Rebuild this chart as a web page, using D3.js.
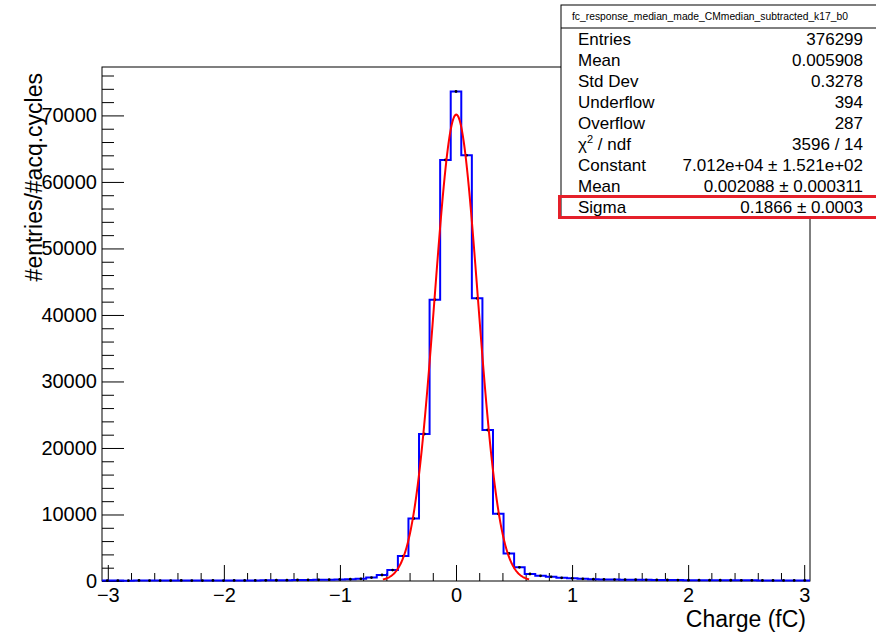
<!DOCTYPE html>
<html>
<head>
<meta charset="utf-8">
<script src="https://cdn.jsdelivr.net/npm/d3@7"></script>
<style>
body { margin: 0; background: #fff; }
text { font-family: "Liberation Sans", Arial, Helvetica, sans-serif; fill: #000; }
</style>
</head>
<body>
<svg id="chart"></svg>
<script>
// histogram: 67 bins over [-3.05, 3.05], bin centers at k * width, k = -33..33
const xRange = [-3.05, 3.05];
const binValues = [
    60, 70, 50, 80, 60, 70, 60, 80, 70, 60,
    80, 70, 90, 80, 90, 100, 110, 120, 150, 160,
    170, 200, 230, 260, 330, 520, 900, 1650, 3750, 9400,
    22100, 42300, 63300, 73600, 64000, 42500, 22700, 10100, 4150, 2050,
    1050, 780, 630, 470, 400, 320, 260, 240, 220, 200,
    190, 170, 160, 150, 140, 130, 130, 120, 110, 110,
    100, 100, 90, 90, 80, 90, 80
];
const xTicks = [-3, -2, -1, 0, 1, 2, 3];
const xTickLabels = ["\u22123", "\u22122", "\u22121", "0", "1", "2", "3"];
const yTicks = [0, 10000, 20000, 30000, 40000, 50000, 60000, 70000];

// gaussian fit parameters (from the stats box)
const fitConstant = 7.012e4;
const fitMean = 0.002088;
const fitSigma = 0.1866;
const fitRange = [-0.63, 0.63];

const statsTitle = "fc_response_median_made_CMmedian_subtracted_k17_b0";
const statsLabels = ["Entries", "Mean", "Std Dev", "Underflow", "Overflow", "chi2", "Constant", "Mean", "Sigma"];
const statsValues = ["376299", "0.005908", "0.3278", "394", "287", "3596 / 14",
    "7.012e+04 \u00b1 1.521e+02", "0.002088 \u00b1 0.000311", "0.1866 \u00b1 0.0003"];

const width = 876, height = 635;
const frame = { left: 102, right: 810, top: 67, bottom: 581 };

const svg = d3.select("#chart").attr("width", width).attr("height", height);

const binWidth = (xRange[1] - xRange[0]) / binValues.length;
const bins = binValues.map((v, i) => ({
    x0: xRange[0] + i * binWidth,
    x1: xRange[0] + (i + 1) * binWidth,
    xc: xRange[0] + (i + 0.5) * binWidth,
    v: v
}));

const x = d3.scaleLinear().domain(xRange).range([frame.left, frame.right]);
const y = d3.scaleLinear().domain([0, d3.max(binValues) * 1.05]).range([frame.bottom, frame.top]);

// frame
svg.append("rect")
    .attr("x", frame.left).attr("y", frame.top)
    .attr("width", frame.right - frame.left).attr("height", frame.bottom - frame.top)
    .attr("fill", "none").attr("stroke", "#000").attr("stroke-width", 1);

// x axis
const xAxis = svg.append("g")
    .attr("transform", `translate(0,${frame.bottom})`)
    .call(d3.axisBottom(x).tickValues(xTicks).tickFormat((d, i) => xTickLabels[i])
        .tickSize(-16).tickPadding(7));
xAxis.select(".domain").remove();
xAxis.selectAll("text").style("font-size", "20px");

const xMinor = d3.range(-2.8, 3, 0.2).filter(d => Math.abs(d - Math.round(d)) > 0.01);
svg.append("g")
    .attr("transform", `translate(0,${frame.bottom})`)
    .call(d3.axisBottom(x).tickValues(xMinor).tickFormat("").tickSize(-8))
    .call(g => g.select(".domain").remove());

// y axis
const yAxis = svg.append("g")
    .attr("transform", `translate(${frame.left},0)`)
    .call(d3.axisLeft(y).tickValues(yTicks).tickFormat(d3.format("d"))
        .tickSize(-22).tickPadding(5));
yAxis.select(".domain").remove();
yAxis.selectAll("text").style("font-size", "20px");

const yMinor = d3.range(2000, 77000, 2000).filter(d => d % 10000 !== 0);
svg.append("g")
    .attr("transform", `translate(${frame.left},0)`)
    .call(d3.axisLeft(y).tickValues(yMinor).tickFormat("").tickSize(-12))
    .call(g => g.select(".domain").remove());

// axis titles
svg.append("text")
    .attr("x", frame.right - 4).attr("y", 627)
    .attr("text-anchor", "end")
    .style("font-size", "23px")
    .text("Charge (fC)");

svg.append("text")
    .attr("transform", `translate(42,${frame.top + 6}) rotate(-90)`)
    .attr("text-anchor", "end")
    .style("font-size", "23px")
    .text("#entries/#acq.cycles");

// histogram outline
const stepPts = bins.map(b => [b.x0, b.v]).concat([[bins[bins.length - 1].x1, bins[bins.length - 1].v]]);
svg.append("path")
    .datum(stepPts)
    .attr("fill", "none")
    .attr("stroke", "#0000ff")
    .attr("stroke-width", 2)
    .attr("d", d3.line().x(d => x(d[0])).y(d => y(d[1])).curve(d3.curveStepAfter));

// bin markers
svg.append("g").selectAll("circle")
    .data(bins)
    .join("circle")
    .attr("cx", d => x(d.xc))
    .attr("cy", d => y(d.v))
    .attr("r", 1.4)
    .attr("fill", "#000");

// fit curve
const fitPts = d3.range(fitRange[0], fitRange[1] + 1e-9, 0.004)
    .map(t => [t, fitConstant * Math.exp(-0.5 * Math.pow((t - fitMean) / fitSigma, 2))]);
svg.append("path")
    .datum(fitPts)
    .attr("fill", "none")
    .attr("stroke", "#ff0000")
    .attr("stroke-width", 2)
    .attr("d", d3.line().x(d => x(d[0])).y(d => y(d[1])));

// stats box
const box = { left: 561, right: 880, top: 5, titleBottom: 28, rowH: 21 };
const boxBottom = box.titleBottom + box.rowH * statsLabels.length;
const stats = svg.append("g");
stats.append("rect")
    .attr("x", box.left).attr("y", box.top)
    .attr("width", box.right - box.left).attr("height", boxBottom - box.top)
    .attr("fill", "#fff").attr("stroke", "#000").attr("stroke-width", 1);
stats.append("line")
    .attr("x1", box.left).attr("x2", box.right)
    .attr("y1", box.titleBottom).attr("y2", box.titleBottom)
    .attr("stroke", "#000");
stats.append("text")
    .attr("x", 572).attr("y", 20)
    .style("font-size", "10.3px")
    .text(statsTitle);

statsLabels.forEach((lab, i) => {
    const by = box.titleBottom + box.rowH * i + 17;
    const t = stats.append("text").attr("x", 578).attr("y", by).style("font-size", "17px");
    if (lab === "chi2") {
        t.append("tspan").text("\u03c7");
        t.append("tspan").attr("dy", -7).style("font-size", "11px").text("2");
        t.append("tspan").attr("dy", 7).text(" / ndf");
    } else {
        t.text(lab);
    }
    stats.append("text")
        .attr("x", 863).attr("y", by)
        .attr("text-anchor", "end")
        .style("font-size", "17px")
        .text(statsValues[i]);
});

// red highlight round the Sigma row
const sigRow = statsLabels.length - 1;
svg.append("rect")
    .attr("x", 559.5)
    .attr("y", box.titleBottom + box.rowH * sigRow + 0.5)
    .attr("width", 330)
    .attr("height", box.rowH)
    .attr("fill", "none")
    .attr("stroke", "#e5202a")
    .attr("stroke-width", 3);
</script>
</body>
</html>
